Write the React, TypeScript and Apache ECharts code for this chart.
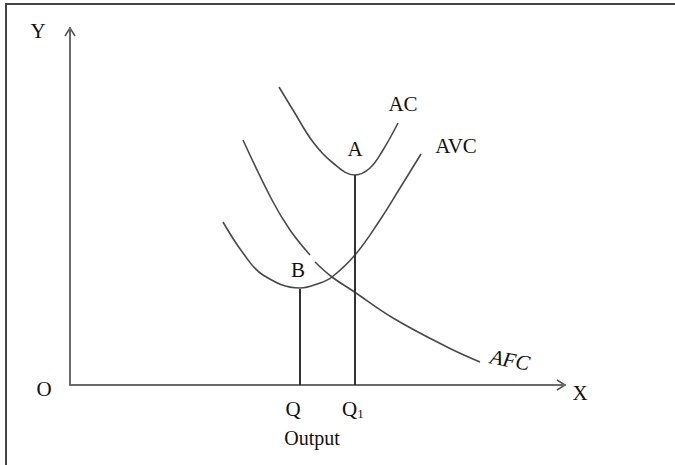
import React, { useEffect, useRef } from "react";
import * as echarts from "echarts";

// Data in plot units (x: output, y: cost)
const acCurve: [number, number][] = [
  [209, 298], [223, 275], [243, 243], [263, 222], [285, 210], [300, 217], [313, 235], [328, 262],
];
const avcCurve: [number, number][] = [
  [153, 163], [173, 132], [193, 110], [230, 97], [250, 102], [262, 108], [285, 130], [310, 165], [330, 197], [351, 231],
];
const afcCurve: ([number, number] | null)[] = [
  [173, 245], [202, 185], [220, 155], [240, 130], null, [245, 123], [262, 108], [283, 94], [323, 67], [377, 38], [410, 23],
];
const qLine: [number, number][] = [[230, 0], [230, 96]];
const q1Line: [number, number][] = [[285, 0], [285, 210]];

const X_MAX = 495;
const Y_MAX = 357;

const FONT = "Liberation Serif, Times New Roman, serif";
const FS = 21;

export default function App() {
  const ref = useRef<HTMLDivElement>(null);
  useEffect(() => {
    document.body.style.margin = "0";
    const chart = echarts.init(ref.current!, undefined, { renderer: "svg" });
    const curveStyle = { color: "#4a4a4a", width: 1.6 };
    const txt = (text: string, x: number, y: number, extra: any = {}) => ({
      type: "text",
      x,
      y,
      style: {
        text,
        fontFamily: FONT,
        fontSize: FS,
        fill: "#111",
        align: "center",
        verticalAlign: "middle",
        ...extra,
      },
    });
    chart.setOption({
      animation: false,
      grid: { left: 70, right: 675 - 565, top: 28, bottom: 465 - 385 },
      xAxis: {
        type: "value",
        min: 0,
        max: X_MAX,
        axisLine: { show: true, lineStyle: { color: "#6a6a6a", width: 2 } },
        axisTick: { show: false },
        axisLabel: { show: false },
        splitLine: { show: false },
      },
      yAxis: {
        type: "value",
        min: 0,
        max: Y_MAX,
        axisLine: { show: true, lineStyle: { color: "#6a6a6a", width: 2 } },
        axisTick: { show: false },
        axisLabel: { show: false },
        splitLine: { show: false },
      },
      series: [
        { type: "line", data: acCurve, smooth: 0.4, showSymbol: false, lineStyle: curveStyle },
        { type: "line", data: avcCurve, smooth: 0.4, showSymbol: false, lineStyle: curveStyle },
        { type: "line", data: afcCurve, smooth: 0.4, showSymbol: false, connectNulls: false, lineStyle: curveStyle },
        { type: "line", data: qLine, showSymbol: false, lineStyle: { color: "#333", width: 2 } },
        { type: "line", data: q1Line, showSymbol: false, lineStyle: { color: "#333", width: 2 } },
      ],
      graphic: [
        {
          type: "rect",
          shape: { x: 6, y: 4, width: 700, height: 500 },
          style: { fill: "none", stroke: "#444", lineWidth: 2 },
          silent: true,
        },
        {
          type: "polyline",
          shape: { points: [[557, 380], [565, 385], [557, 390]] },
          style: { fill: "none", stroke: "#555", lineWidth: 1.5 },
        },
        {
          type: "polyline",
          shape: { points: [[65, 36], [70, 28], [75, 36]] },
          style: { fill: "none", stroke: "#555", lineWidth: 1.5 },
        },
        txt("Y", 38, 31),
        txt("O", 44, 389),
        txt("X", 580, 393),
        txt("Q", 293, 409),
        {
          type: "text",
          x: 342,
          y: 409,
          style: {
            text: "{a|Q}{b|1}",
            fontFamily: FONT,
            verticalAlign: "middle",
            rich: {
              a: { fontFamily: FONT, fontSize: FS, fill: "#111" },
              b: { fontFamily: FONT, fontSize: 13, fill: "#111", verticalAlign: "bottom", padding: [7, 0, 0, 0] },
            },
          },
        },
        txt("Output", 312, 438, { fontSize: 20 }),
        txt("AC", 403, 104),
        txt("A", 355, 149),
        txt("AVC", 456, 146),
        txt("B", 298, 270),
        {
          type: "text",
          x: 510,
          y: 360,
          rotation: -0.18,
          style: {
            text: "AFC",
            fontFamily: FONT,
            fontSize: FS,
            fontStyle: "italic",
            fill: "#111",
            align: "center",
            verticalAlign: "middle",
          },
        },
      ],
    });
    return () => chart.dispose();
  }, []);
  return <div ref={ref} style={{ width: 675, height: 465 }} />;
}
